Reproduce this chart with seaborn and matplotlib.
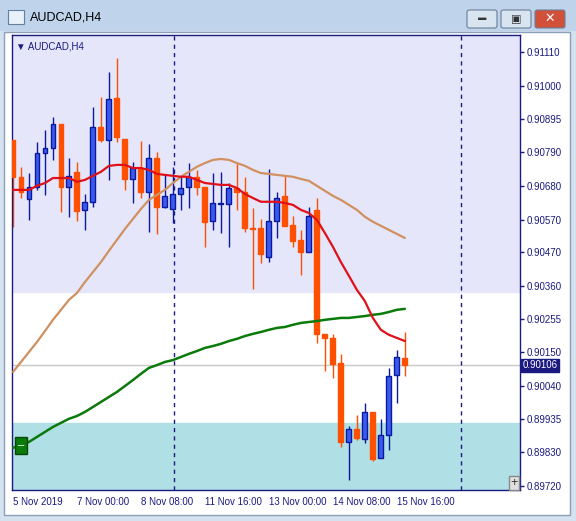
import numpy as np
import pandas as pd
import matplotlib
matplotlib.use("Agg")
import matplotlib.pyplot as plt
from matplotlib.patches import Rectangle, FancyBboxPatch
import seaborn as sns

sns.set_style("white")
plt.rcParams['font.family'] = ['Liberation Sans', 'DejaVu Sans']

opens = [.90828,.90710,.90639,.90678,.90786,.90803,.90879,.90678,.90726,.90604,
         .90630,.90870,.90828,.90963,.90831,.90703,.90738,.90662,.90770,.90614,
         .90607,.90655,.90678,.90710,.90678,.90569,.90623,.90623,.90674,.90662,
         .90546,.90546,.90453,.90569,.90649,.90556,.90508,.90469,.90604,.90207,
         .90194,.90114,.89861,.89902,.89870,.89957,.89810,.89883,.90075,.90130]
closes = [.90710,.90662,.90678,.90786,.90803,.90879,.90678,.90713,.90601,.90630,
          .90870,.90828,.90959,.90838,.90703,.90738,.90662,.90770,.90614,.90649,
          .90655,.90674,.90710,.90678,.90566,.90626,.90626,.90674,.90662,.90546,
          .90543,.90463,.90569,.90642,.90553,.90505,.90469,.90585,.90207,.90194,
          .90111,.89861,.89902,.89874,.89957,.89806,.89883,.90072,.90133,.90106]
highs = [.90828,.90742,.90722,.90822,.90860,.90902,.90879,.90770,.90758,.90655,
         .90934,.90966,.91046,.91091,.90831,.90758,.90825,.90815,.90790,.90719,
         .90742,.90710,.90754,.90732,.90678,.90722,.90726,.90690,.90754,.90710,
         .90610,.90575,.90735,.90662,.90713,.90585,.90540,.90614,.90642,.90207,
         .90207,.90143,.89912,.89947,.89986,.89957,.89934,.90098,.90156,.90213]
lows = [.90550,.90642,.90572,.90668,.90652,.90764,.90598,.90582,.90569,.90540,
        .90614,.90822,.90700,.90822,.90668,.90626,.90642,.90534,.90527,.90610,
        .90562,.90604,.90610,.90652,.90486,.90540,.90530,.90486,.90604,.90534,
        .90351,.90434,.90437,.90514,.90553,.90486,.90396,.90469,.90178,.90088,
        .90066,.89845,.89739,.89867,.89858,.89800,.89810,.89835,.89986,.90072]
ma_red = [.90668,.90668,.90668,.90681,.90690,.90706,.90706,.90706,.90694,.90700,
          .90713,.90726,.90745,.90748,.90748,.90738,.90738,.90732,.90719,.90716,
          .90713,.90710,.90710,.90700,.90690,.90687,.90684,.90684,.90674,.90655,
          .90642,.90630,.90630,.90630,.90626,.90620,.90604,.90594,.90572,.90530,
          .90486,.90437,.90393,.90348,.90312,.90258,.90220,.90204,.90194,.90184]
ma_tan = [.90085,.90117,.90149,.90181,.90216,.90252,.90284,.90316,.90338,.90373,
          .90405,.90437,.90473,.90508,.90543,.90575,.90607,.90636,.90652,.90668,
          .90690,.90710,.90726,.90742,.90754,.90764,.90767,.90764,.90754,.90745,
          .90732,.90722,.90719,.90716,.90713,.90710,.90703,.90697,.90681,.90665,
          .90649,.90636,.90620,.90604,.90582,.90566,.90553,.90540,.90527,.90514]
ma_green = [.89842,.89851,.89861,.89877,.89893,.89909,.89922,.89935,.89944,.89957,
            .89973,.89989,.90005,.90021,.90040,.90059,.90079,.90098,.90107,.90117,
            .90123,.90133,.90143,.90152,.90162,.90168,.90175,.90184,.90191,.90200,
            .90207,.90213,.90220,.90226,.90229,.90236,.90242,.90245,.90248,.90252,
            .90255,.90258,.90258,.90261,.90264,.90268,.90271,.90277,.90284,.90287]
y_ticks = [0.91110,0.91000,0.90895,0.90790,0.90680,0.90570,0.90470,0.90360,
           0.90255,0.90150,0.90040,0.89935,0.89830,0.89720]
x_tick_pos = [0, 8, 16, 24, 32, 40, 48]
x_tick_labels = ["5 Nov 2019", "7 Nov 00:00", "8 Nov 08:00", "11 Nov 16:00",
                 "13 Nov 00:00", "14 Nov 08:00", "15 Nov 16:00"]
last_price = 0.90106
band_top = 0.90341
band_bottom = 0.89922

W, H = 576, 521
fig = plt.figure(figsize=(W/100, H/100), dpi=100)
fig.patch.set_facecolor("#D4E1EF")

def fpatch(p):
    p.set_zorder(-10)
    fig.patches.append(p)

fpatch(Rectangle((0, 1-31/H), 1, 31/H, transform=fig.transFigure,
                 facecolor="#BFD3EA", edgecolor="none"))
fpatch(Rectangle((4/W, 6/H), 566/W, (H-38)/H, transform=fig.transFigure,
                 facecolor="white", edgecolor="#8AA0BA", lw=1))
fig.text(30/W, 1-17/H, "AUDCAD,H4", fontsize=9, va="center", color="black")
fpatch(Rectangle((8/W, 1-24/H), 16/W, 14/H, transform=fig.transFigure,
                 facecolor="#E8F0F8", edgecolor="#6080A0", lw=0.8))
for x0, col in [(467, "#D8E4F0"), (501, "#D8E4F0"), (535, "#D0503A")]:
    fpatch(FancyBboxPatch((x0/W, 1-28/H), 30/W, 18/H, transform=fig.transFigure,
                          boxstyle="round,pad=0,rounding_size=0.004",
                          facecolor=col, edgecolor="#6A7F99", lw=0.8))
fig.text(482/W, 1-19/H, "▬", fontsize=6, ha="center", va="center", color="#333")
fig.text(516/W, 1-19/H, "▣", fontsize=8, ha="center", va="center", color="#333")
fig.text(550/W, 1-19/H, "✕", fontsize=9, ha="center", va="center", color="white",
         fontweight="bold")

ax = fig.add_axes([12/W, 1-490/H, 508/W, 455/H])
ax.set_xlim(-0.125, 63.4)
ax.set_ylim(0.89707, 0.91164)
ax.axhspan(band_top, 1, color="#E6E6FA", zorder=0)
ax.axhspan(0, band_bottom, color="#B0DFE5", zorder=0)
ax.axhline(last_price, color="#C8C8C8", lw=1, zorder=1)
for xv in [20.1, 56]:
    ax.axvline(xv, color="#1A1A80", lw=1, ls=(0, (3, 3)), zorder=1)

idx = np.arange(len(opens))
o, c = np.array(opens), np.array(closes)
up = c >= o
cols = np.where(up, "#3A5BF0", "#FF5000")
edges = np.where(up, "#0A1A9A", "#FF5000")
ax.vlines(idx, lows, highs, colors=edges, lw=1, zorder=2)
ax.bar(idx, np.maximum(np.abs(c-o), 0.00003), bottom=np.minimum(o, c), width=0.62,
       color=cols, edgecolor=edges, lw=1, zorder=3)

df = pd.DataFrame({"i": idx, "red": ma_red, "tan": ma_tan, "green": ma_green})
sns.lineplot(data=df, x="i", y="tan", color="#D09060", lw=1.6, ax=ax, zorder=4)
sns.lineplot(data=df, x="i", y="green", color="#0A7A0A", lw=1.8, ax=ax, zorder=4)
sns.lineplot(data=df, x="i", y="red", color="#E0101A", lw=1.6, ax=ax, zorder=5)

ax.yaxis.tick_right()
ax.set_yticks(y_ticks)
ax.set_yticklabels([f"{v:.5f}" for v in y_ticks])
ax.set_xticks(x_tick_pos)
ax.set_xticklabels(x_tick_labels, ha="left")
ax.tick_params(axis="both", colors="#1A1A80", labelsize=7, length=3, width=1, pad=2)
for s in ax.spines.values():
    s.set_color("#1A1A80")
    s.set_linewidth(1)
ax.set_xlabel("")
ax.set_ylabel("")
ax.text(0.008, 0.985, "▼ AUDCAD,H4", transform=ax.transAxes, fontsize=7,
        color="#1A1A80", va="top", ha="left")
ax.text(1.005, last_price, f"{last_price:.5f}", transform=ax.get_yaxis_transform(),
        fontsize=7, color="white", va="center", ha="left", zorder=10, clip_on=False,
        bbox=dict(boxstyle="square,pad=0.15", facecolor="#1A1A80", edgecolor="#1A1A80"))
ax.text(1.0, 0.89850, "–", fontsize=8, color="white", ha="center", va="center",
        bbox=dict(boxstyle="square,pad=0.3", facecolor="#0A7A0A", edgecolor="#054A05"),
        zorder=10)
ax.text(0.988, 0.015, "+", transform=ax.transAxes, fontsize=9, ha="center", va="center",
        color="#333", bbox=dict(boxstyle="square,pad=0.1", facecolor="#E0E0E0",
                                edgecolor="#888"), zorder=10)

fig.savefig("out.png", dpi=100, facecolor=fig.get_facecolor())
